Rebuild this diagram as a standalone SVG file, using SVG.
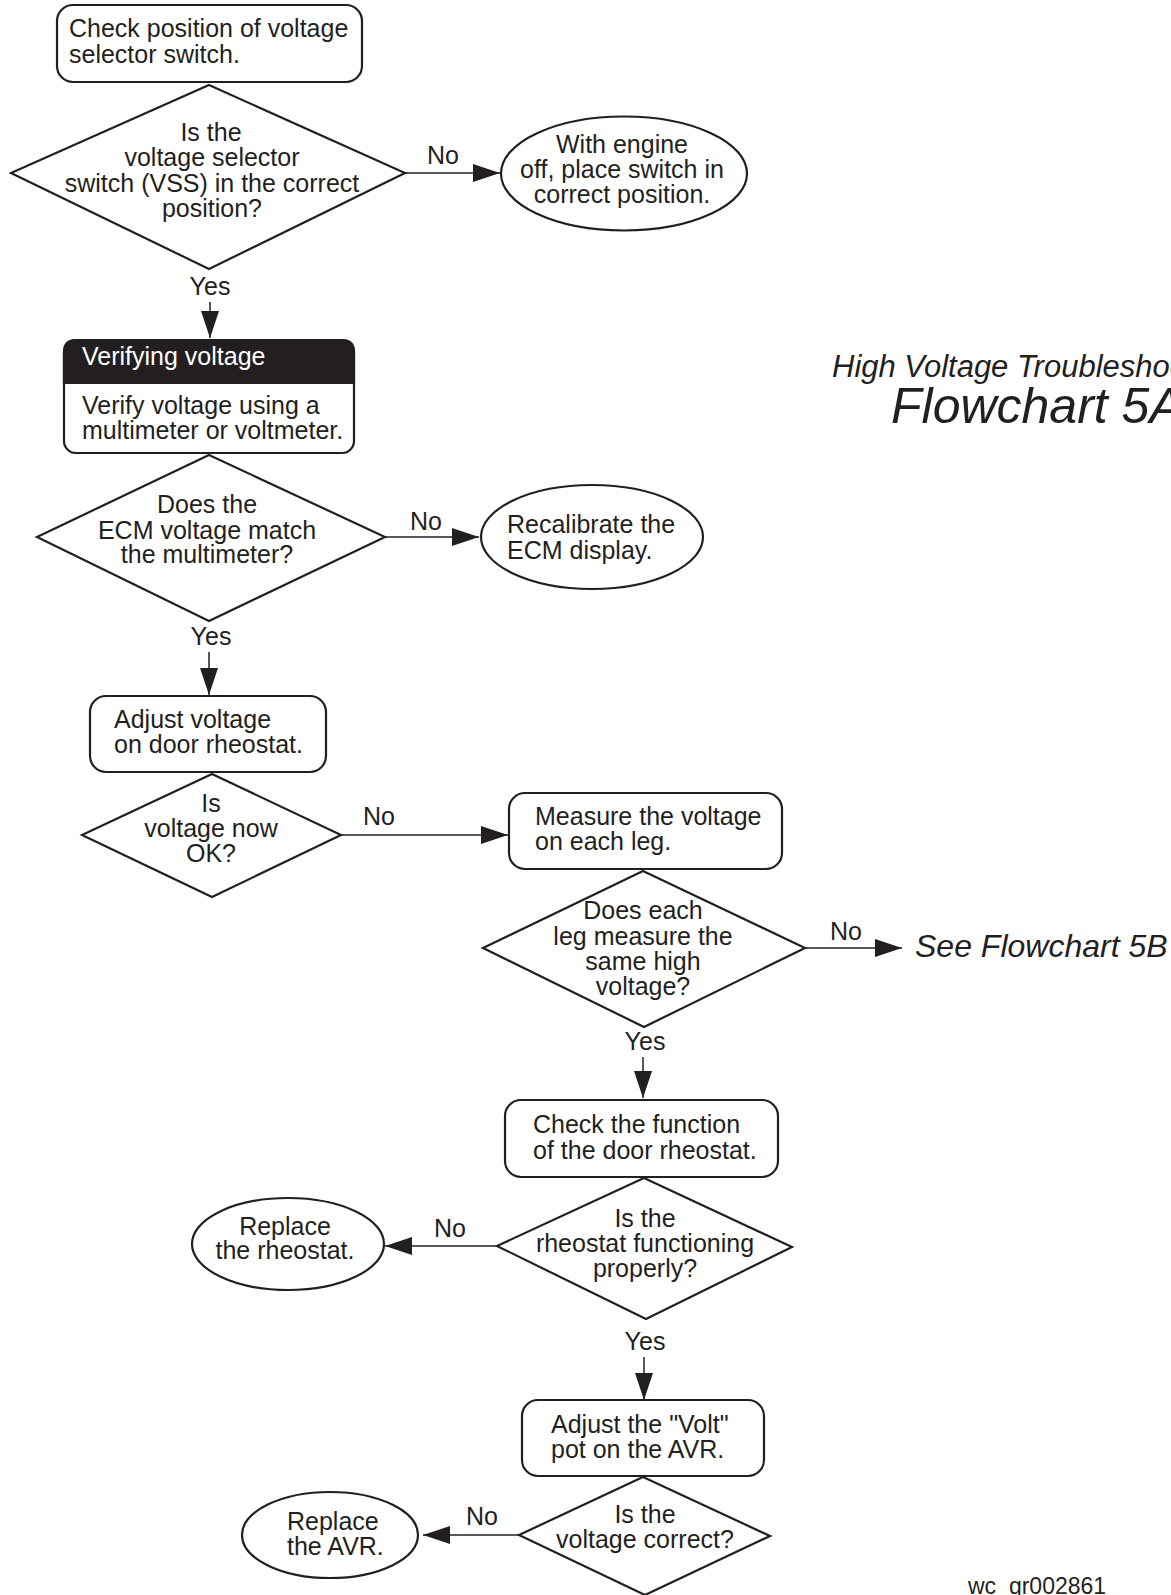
<svg xmlns="http://www.w3.org/2000/svg" width="1171" height="1595" viewBox="0 0 1171 1595">
<defs>
<marker id="ah" viewBox="0 0 27 18" refX="27" refY="9" markerWidth="27" markerHeight="18" orient="auto" markerUnits="userSpaceOnUse">
<path d="M0,0 L27,9 L0,18 z" fill="#231f20"/>
</marker>
</defs>
<style>
text{font-family:"Liberation Sans",Arial,Helvetica,sans-serif;font-size:25px;fill:#231f20}
.c{text-anchor:middle}
.w{fill:#ffffff}
.it{font-style:italic}
.shape{fill:#ffffff;stroke:#231f20;stroke-width:2.2}
.conn line{stroke:#231f20;stroke-width:1.5;marker-end:url(#ah)}
</style>
<rect width="1171" height="1595" fill="#ffffff"/>

<g id="n1">
<rect class="shape" x="57" y="5" width="305" height="77" rx="16"/>
<text x="69" y="37">Check position of voltage</text>
<text x="69" y="63">selector switch.</text>
</g>

<g id="d1">
<polygon class="shape" points="209,85 405,173 209,269 11,173"/>
<text class="c" x="211" y="141">Is the</text>
<text class="c" x="212" y="166">voltage selector</text>
<text class="c" x="212" y="192">switch (VSS) in the correct</text>
<text class="c" x="212" y="217">position?</text>
</g>

<g id="e1">
<ellipse class="shape" cx="624" cy="173.5" rx="123" ry="57"/>
<text class="c" x="622" y="153">With engine</text>
<text class="c" x="622" y="178">off, place switch in</text>
<text class="c" x="622" y="203">correct position.</text>
</g>

<g id="n2">
<rect class="shape" x="64" y="340" width="290" height="113" rx="12"/>
<path d="M64,383 L64,352 Q64,340 76,340 L342,340 Q354,340 354,352 L354,383 z" fill="#231f20" stroke="#231f20" stroke-width="2.2"/>
<text class="w" x="82" y="365">Verifying voltage</text>
<text x="82" y="414">Verify voltage using a</text>
<text x="82" y="439">multimeter or voltmeter.</text>
</g>

<g id="d2">
<polygon class="shape" points="209,455 385,537 209,621 37,537"/>
<text class="c" x="207" y="513">Does the</text>
<text class="c" x="207" y="539">ECM voltage match</text>
<text class="c" x="207" y="563">the multimeter?</text>
</g>

<g id="e2">
<ellipse class="shape" cx="592" cy="537" rx="111" ry="52"/>
<text x="507" y="533">Recalibrate the</text>
<text x="507" y="559">ECM display.</text>
</g>

<g id="n3">
<rect class="shape" x="90" y="696" width="236" height="76" rx="16"/>
<text x="114" y="728">Adjust voltage</text>
<text x="114" y="753">on door rheostat.</text>
</g>

<g id="d3">
<polygon class="shape" points="212,774 341,835 212,897 82,835"/>
<text class="c" x="211" y="812">Is</text>
<text class="c" x="211" y="837">voltage now</text>
<text class="c" x="211" y="862">OK?</text>
</g>

<g id="n4">
<rect class="shape" x="509" y="793" width="273" height="76" rx="16"/>
<text x="535" y="825">Measure the voltage</text>
<text x="535" y="850">on each leg.</text>
</g>

<g id="d4">
<polygon class="shape" points="643,871 805,948 644,1027 483,948"/>
<text class="c" x="643" y="919">Does each</text>
<text class="c" x="643" y="945">leg measure the</text>
<text class="c" x="643" y="970">same high</text>
<text class="c" x="643" y="995">voltage?</text>
</g>

<g id="ref5b">
<text class="it" x="915" y="957" style="font-size:32px">See Flowchart 5B</text>
</g>

<g id="n5">
<rect class="shape" x="505" y="1100" width="273" height="77" rx="16"/>
<text x="533" y="1133">Check the function</text>
<text x="533" y="1159">of the door rheostat.</text>
</g>

<g id="d5">
<polygon class="shape" points="644,1178 792,1247 646,1319 497,1246"/>
<text class="c" x="645" y="1227">Is the</text>
<text class="c" x="645" y="1252">rheostat functioning</text>
<text class="c" x="645" y="1277">properly?</text>
</g>

<g id="e3">
<ellipse class="shape" cx="288" cy="1244" rx="96" ry="46"/>
<text class="c" x="285" y="1235">Replace</text>
<text class="c" x="285" y="1259">the rheostat.</text>
</g>

<g id="n6">
<rect class="shape" x="522" y="1400" width="242" height="76" rx="16"/>
<text x="551" y="1433">Adjust the "Volt"</text>
<text x="551" y="1458">pot on the AVR.</text>
</g>

<g id="d6">
<polygon class="shape" points="643,1477 770,1536 645,1595 519,1535"/>
<text class="c" x="645" y="1523">Is the</text>
<text class="c" x="645" y="1548">voltage correct?</text>
</g>

<g id="e4">
<ellipse class="shape" cx="330" cy="1535" rx="88" ry="43"/>
<text x="287" y="1530">Replace</text>
<text x="287" y="1555">the AVR.</text>
</g>

<g id="connectors" class="conn">
<line x1="405" y1="173" x2="500" y2="173"/>
<line x1="210" y1="302" x2="210" y2="338"/>
<line x1="385" y1="537" x2="479" y2="537"/>
<line x1="209" y1="652" x2="209" y2="695"/>
<line x1="341" y1="835" x2="508" y2="835"/>
<line x1="805" y1="948" x2="902" y2="948"/>
<line x1="643" y1="1057" x2="643" y2="1098"/>
<line x1="497" y1="1246" x2="385" y2="1246"/>
<line x1="644" y1="1357" x2="644" y2="1400"/>
<line x1="519" y1="1535" x2="423" y2="1535"/>
</g>

<g id="labels">
<text class="c" x="443" y="164">No</text>
<text class="c" x="210" y="295">Yes</text>
<text class="c" x="426" y="530">No</text>
<text class="c" x="211" y="645">Yes</text>
<text class="c" x="379" y="825">No</text>
<text class="c" x="846" y="940">No</text>
<text class="c" x="645" y="1050">Yes</text>
<text class="c" x="450" y="1237">No</text>
<text class="c" x="645" y="1350">Yes</text>
<text class="c" x="482" y="1525">No</text>
</g>

<g id="title">
<text class="it" x="832" y="377" style="font-size:31px">High Voltage Troubleshooting</text>
<text class="it" x="891" y="423" style="font-size:50px">Flowchart 5A</text>
</g>

<text x="968" y="1594" style="font-size:23px">wc_gr002861</text>
</svg>
